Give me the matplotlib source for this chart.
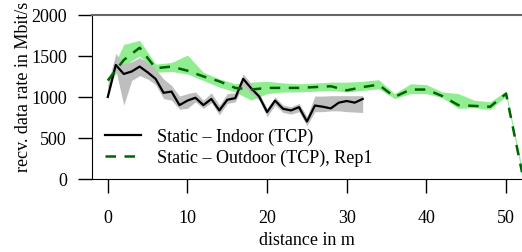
import matplotlib
matplotlib.use("Agg")
import matplotlib.pyplot as plt

# Indoor, every metre
indoor_dist = list(range(0, 33))
indoor_mean = [1000, 1390, 1280, 1310, 1370, 1300, 1220, 1050, 1065, 900, 955,
               990, 900, 975, 835, 965, 985, 1220, 1105, 1005, 815, 955, 855,
               835, 875, 700, 895, 880, 860, 930, 950, 930, 975]
indoor_lo = [990, 1330, 900, 1200, 1260, 1220, 1150, 980, 960, 850, 860,
             940, 860, 930, 780, 920, 940, 1140, 1040, 960, 760, 900, 810,
             790, 820, 650, 820, 820, 830, 830, 820, 815, 810]
indoor_hi = [1150, 1530, 1400, 1430, 1480, 1420, 1340, 1220, 1140, 1010, 1040,
             1060, 960, 1050, 900, 1040, 1050, 1280, 1160, 1040, 860, 1000, 900,
             880, 920, 760, 1010, 1010, 1015, 1015, 1015, 1015, 1015]

# Outdoor, every 2 m
outdoor_dist = list(range(0, 53, 2))
outdoor_mean = [1200, 1450, 1600, 1350, 1370, 1320, 1250, 1190, 1110, 1090,
                1110, 1110, 1110, 1120, 1130, 1080, 1120, 1150, 1000, 1090,
                1090, 1010, 900, 890, 880, 1040, 80]
outdoor_lo = [1180, 1380, 1500, 1300, 1310, 1280, 1200, 1120, 1060, 960,
              1040, 1060, 1060, 1070, 1080, 1060, 1080, 1100, 980, 1040,
              1040, 990, 860, 870, 845, 1010, 60]
outdoor_hi = [1220, 1640, 1690, 1400, 1420, 1510, 1300, 1220, 1160, 1180,
              1190, 1170, 1160, 1170, 1180, 1180, 1190, 1210, 1040, 1160,
              1150, 1060, 1040, 960, 940, 1070, 140]

plt.rcParams['font.family'] = ['Liberation Serif', 'DejaVu Serif']
plt.rcParams['font.size'] = 13

fig = plt.figure(figsize=(5.22, 2.53), dpi=100)
ax = fig.add_axes([0.176, 0.289, 0.824, 0.648])

ax.fill_between(outdoor_dist, outdoor_lo, outdoor_hi, color='#90ee90', lw=0)
ax.fill_between(indoor_dist, indoor_lo, indoor_hi, color='#bebebe', lw=0)
ax.plot(indoor_dist, indoor_mean, color='black', lw=1.6,
        label='Static – Indoor (TCP)')
ax.plot(outdoor_dist, outdoor_mean, color='#006400', lw=1.8, ls=(0, (4.2, 3.4)),
        label='Static – Outdoor (TCP), Rep1')

ax.set_xlim(-2, 52)
ax.set_ylim(0, 2000)
ax.set_xticks([0, 10, 20, 30, 40, 50])
ax.set_yticks([0, 500, 1000, 1500, 2000])
ax.set_xlabel('distance in m', labelpad=3)
ax.set_ylabel('recv. data rate in Mbit/s')
ax.yaxis.set_label_coords(-0.14, 0.565)

ax.spines['right'].set_visible(False)
ax.spines['top'].set_color('#666666')
ax.spines['top'].set_linewidth(1.5)
ax.tick_params(direction='out', length=10, width=1)
ax.tick_params(axis='x', pad=12)
ax.tick_params(axis='y', pad=8)
ax.yaxis.get_major_ticks()[-1].tick1line.set_color('#666666')

ax.legend(loc='lower left', frameon=False, handlelength=2.0,
          borderaxespad=0.3, labelspacing=0.2, handletextpad=0.9)

fig.savefig('out.png', dpi=100)
